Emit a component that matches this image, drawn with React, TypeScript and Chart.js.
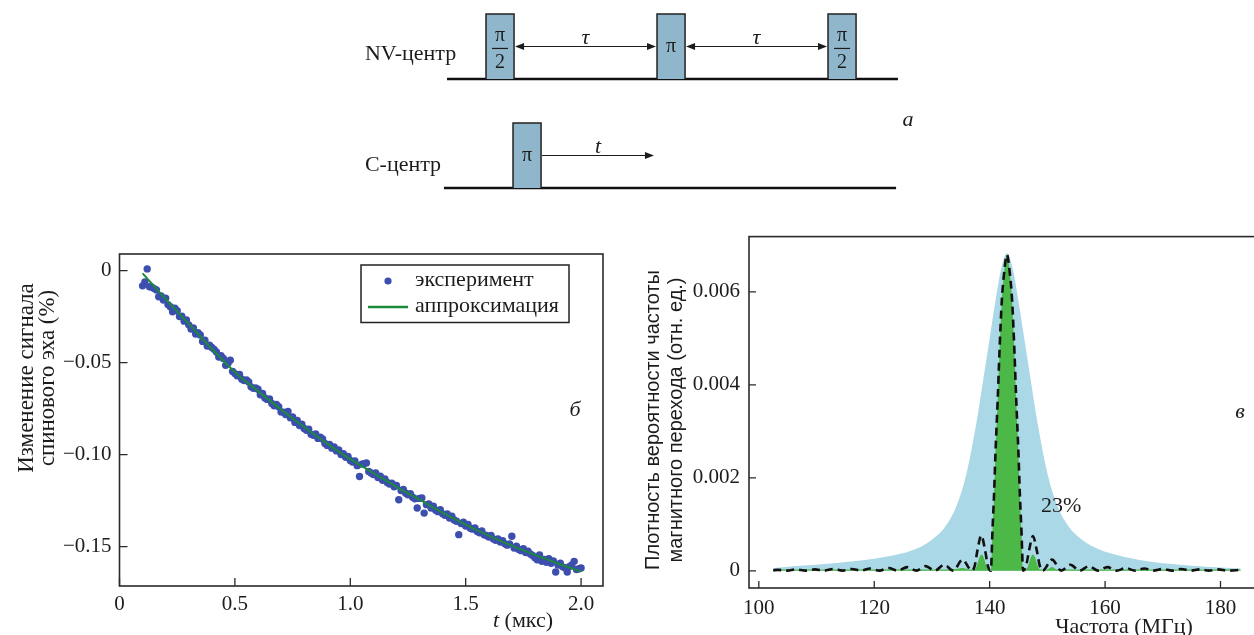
import React, { useEffect, useRef } from "react";
import { Chart, registerables } from "chart.js";

Chart.register(...registerables);

const SERIF = "'Liberation Serif', 'Times New Roman', serif";
const SANS = "'Liberation Sans', Arial, sans-serif";
const INK = "#1c1c1c";

// ---------- (а) pulse sequence: x in units of τ, y in units of pulse height ----------
const pulseWidth = 0.164;
const nvPulseStarts = [0, 1, 2];
const nvPulseLabels = ["π/2", "π", "π/2"];
const cPulseStarts = [0.158];
const cPulseLabels = ["π"];
const nvLevel = 0;
const cLevel = -1.677;
const nvBaseline = [-0.228, 2.409];
const cBaseline = [-0.246, 2.398];
const nvArrows = [[0.164, 1.0], [1.164, 2.0]];
const nvArrowLabels = ["τ", "τ"];
const cArrows = [[0.322, 0.988]];
const cArrowLabels = ["t"];
const rowLabels = ["NV-центр", "С-центр"];

// ---------- (б) spin echo signal ----------
const expT = [
  0.10, 0.11, 0.12, 0.13, 0.14, 0.15, 0.16, 0.17, 0.18, 0.19,
  0.20, 0.21, 0.22, 0.23, 0.24, 0.25, 0.26, 0.27, 0.28, 0.29,
  0.30, 0.31, 0.32, 0.33, 0.34, 0.35, 0.36, 0.37, 0.38, 0.39,
  0.40, 0.41, 0.42, 0.43, 0.44, 0.45, 0.46, 0.47, 0.48, 0.49,
  0.50, 0.51, 0.52, 0.53, 0.54, 0.55, 0.56, 0.57, 0.58, 0.59,
  0.60, 0.61, 0.62, 0.63, 0.64, 0.65, 0.66, 0.67, 0.68, 0.69,
  0.70, 0.71, 0.72, 0.73, 0.74, 0.75, 0.76, 0.77, 0.78, 0.79,
  0.80, 0.81, 0.82, 0.83, 0.84, 0.85, 0.86, 0.87, 0.88, 0.89,
  0.90, 0.91, 0.92, 0.93, 0.94, 0.95, 0.96, 0.97, 0.98, 0.99,
  1.00, 1.01, 1.02, 1.03, 1.04, 1.05, 1.06, 1.07, 1.08, 1.09,
  1.10, 1.11, 1.12, 1.13, 1.14, 1.15, 1.16, 1.17, 1.18, 1.19,
  1.20, 1.21, 1.22, 1.23, 1.24, 1.25, 1.26, 1.27, 1.28, 1.29,
  1.30, 1.31, 1.32, 1.33, 1.34, 1.35, 1.36, 1.37, 1.38, 1.39,
  1.40, 1.41, 1.42, 1.43, 1.44, 1.45, 1.46, 1.47, 1.48, 1.49,
  1.50, 1.51, 1.52, 1.53, 1.54, 1.55, 1.56, 1.57, 1.58, 1.59,
  1.60, 1.61, 1.62, 1.63, 1.64, 1.65, 1.66, 1.67, 1.68, 1.69,
  1.70, 1.71, 1.72, 1.73, 1.74, 1.75, 1.76, 1.77, 1.78, 1.79,
  1.80, 1.81, 1.82, 1.83, 1.84, 1.85, 1.86, 1.87, 1.88, 1.89,
  1.90, 1.91, 1.92, 1.93, 1.94, 1.95, 1.96, 1.97, 1.98, 1.99, 2.00,
];
const expV = [
  -0.0083, -0.0062, 0.0009, -0.0088, -0.0090, -0.0098, -0.0105, -0.0142, -0.0138, -0.0160,
  -0.0150, -0.0185, -0.0196, -0.0224, -0.0205, -0.0218, -0.0250, -0.0248, -0.0275, -0.0269,
  -0.0295, -0.0318, -0.0312, -0.0345, -0.0338, -0.0350, -0.0385, -0.0378, -0.0410, -0.0405,
  -0.0418, -0.0428, -0.0442, -0.0470, -0.0462, -0.0478, -0.0515, -0.0505, -0.0487, -0.0548,
  -0.0560, -0.0572, -0.0565, -0.0590, -0.0598, -0.0595, -0.0605, -0.0632, -0.0640, -0.0638,
  -0.0645, -0.0675, -0.0668, -0.0692, -0.0700, -0.0698, -0.0722, -0.0735, -0.0728, -0.0740,
  -0.0768, -0.0770, -0.0782, -0.0766, -0.0800, -0.0795, -0.0825, -0.0815, -0.0842, -0.0835,
  -0.0858, -0.0868, -0.0862, -0.0890, -0.0895, -0.0888, -0.0912, -0.0905, -0.0915, -0.0940,
  -0.0950, -0.0945, -0.0965, -0.0958, -0.0980, -0.0975, -0.1000, -0.0995, -0.1015, -0.1010,
  -0.1032, -0.1040, -0.1035, -0.1060, -0.1119, -0.1052, -0.1050, -0.1045, -0.1092, -0.1100,
  -0.1108, -0.1100, -0.1125, -0.1118, -0.1140, -0.1132, -0.1152, -0.1160, -0.1155, -0.1175,
  -0.1168, -0.1245, -0.1195, -0.1190, -0.1210, -0.1218, -0.1212, -0.1232, -0.1240, -0.1290,
  -0.1238, -0.1236, -0.1318, -0.1272, -0.1268, -0.1290, -0.1280, -0.1302, -0.1310, -0.1300,
  -0.1322, -0.1330, -0.1322, -0.1345, -0.1335, -0.1355, -0.1362, -0.1435, -0.1375, -0.1368,
  -0.1388, -0.1380, -0.1400, -0.1405, -0.1398, -0.1418, -0.1425, -0.1415, -0.1436, -0.1440,
  -0.1448, -0.1440, -0.1458, -0.1465, -0.1458, -0.1475, -0.1468, -0.1485, -0.1492, -0.1485,
  -0.1444, -0.1508, -0.1498, -0.1515, -0.1522, -0.1512, -0.1532, -0.1525, -0.1540, -0.1548,
  -0.1560, -0.1572, -0.1545, -0.1580, -0.1570, -0.1585, -0.1565, -0.1590, -0.1578, -0.1638,
  -0.1600, -0.1590, -0.1610, -0.1615, -0.1638, -0.1608, -0.1600, -0.1580, -0.1625, -0.1620, -0.1616,
];
const fitT = [0.1, 0.2, 0.3, 0.4, 0.5, 0.6, 0.7, 0.8, 0.9, 1.0, 1.1, 1.2, 1.3, 1.4, 1.5, 1.6, 1.7, 1.8, 1.9, 2.0];
const fitV = [
  -0.0015, -0.0155, -0.029, -0.0425, -0.0552, -0.0655, -0.0755, -0.085, -0.094, -0.1025,
  -0.11, -0.1175, -0.1245, -0.1315, -0.138, -0.144, -0.1495, -0.1545, -0.1592, -0.1635,
];
const legendLabels = ["эксперимент", "аппроксимация"];

// ---------- (в) frequency distribution ----------
const lorX = [
  102.5, 106, 111, 116, 120, 124, 127, 129, 131, 132, 133, 134, 135, 136, 137, 138, 139, 140, 141, 142,
  143, 144, 145, 146, 147, 148, 149, 150, 151, 152, 153, 154, 155, 157, 159, 162, 166, 170, 175, 180, 183.5,
];
const lorY = [
  0.00006, 0.0001, 0.00014, 0.0002, 0.00026, 0.00035, 0.00046, 0.00058, 0.00077, 0.0009, 0.00108, 0.00132,
  0.00165, 0.0021, 0.0027, 0.0034, 0.0042, 0.005, 0.0058, 0.0065,
  0.00683, 0.0065, 0.0058, 0.005, 0.0042, 0.0034, 0.0027, 0.0021, 0.00165, 0.00132, 0.00108, 0.0009,
  0.00077, 0.00058, 0.00046, 0.00034, 0.00023, 0.00016, 0.00011, 0.00007, 0.00005,
];
const greenX = [
  102.5, 133.0, 134.2, 135.3, 136.4, 137.4, 137.8, 138.2, 138.6, 139.0, 139.4, 139.8,
  140.2, 140.5, 140.75, 141.0, 141.4, 141.7, 142.1, 142.5, 143.0, 143.5, 143.9, 144.3, 144.6, 145.0, 145.25, 145.5, 145.8,
  146.3, 146.7, 147.1, 147.5, 147.9, 148.3, 148.7, 150.0, 150.8, 151.6, 183.5,
];
const greenY = [
  0.00003, 0.00003, 0.00004, 0.00006, 0.00003, 0.00003, 0.00012, 0.00028, 0.00035, 0.00028, 0.00012, 0.00002,
  0, 0.0009, 0.0016, 0.0025, 0.0037, 0.0047, 0.0058, 0.0064, 0.0068, 0.0064, 0.0058, 0.0047, 0.0037, 0.0025, 0.0016, 0.0009, 0,
  0.00002, 0.00012, 0.00028, 0.00035, 0.00028, 0.00012, 0.00003, 0.00003, 0.00008, 0.00003, 0.00003,
];
const dashX = [
  102.5, 103.3, 104.9, 106.5, 108.1, 109.7, 111.3, 112.9, 114.5, 116.1, 117.7, 119.3, 120.9, 122.5, 124.1,
  125.7, 127.3, 128.9, 130.5, 132.1, 133.7, 135.3, 136.9, 137.4, 137.9, 138.55, 139.2, 139.7, 140.2,
  140.5, 140.75, 141.0, 141.4, 141.7, 142.1, 142.5, 143.0, 143.5, 143.9, 144.3, 144.6, 145.0, 145.25, 145.5, 145.8,
  146.3, 146.85, 147.5, 148.15, 148.7, 149.2, 150.8, 152.4, 154.0, 155.6, 157.2, 158.8, 160.4, 162.0, 163.6, 165.2, 166.8, 168.4,
  170.0, 171.6, 173.2, 174.8, 176.4, 178.0, 179.6, 181.2, 183.5,
];
const dashY = [
  0.00001, 0.00002, 0.000003, 0.00003, 0.000003, 0.00003, 0.000003, 0.00004, 0.000003, 0.00004, 0.000003, 0.00005, 0.000003, 0.00006, 0.000003,
  0.00008, 0.000003, 0.0001, 0.000003, 0.00013, 0.000003, 0.00024, 0.000003, 0.0001, 0.00045, 0.00076, 0.00045, 0.0001, 0,
  0.0009, 0.0016, 0.0025, 0.0037, 0.0047, 0.0058, 0.0064, 0.0068, 0.0064, 0.0058, 0.0047, 0.0037, 0.0025, 0.0016, 0.0009, 0,
  0.0001, 0.00045, 0.00075, 0.00045, 0.0001, 0.000003, 0.00024, 0.000003, 0.00013, 0.000003, 0.0001, 0.000003, 0.00008, 0.000003, 0.00006, 0.000003, 0.00005, 0.000003,
  0.00004, 0.000003, 0.00004, 0.000003, 0.00003, 0.000003, 0.00003, 0.000003, 0.00002,
];
const percentLabel = "23%";
const percentPos = [148.9, 0.0014];

const BOX_FILL = "#8fb6ca";
const DOT_BLUE = "#3d4fae";
const FIT_GREEN = "#1b8a3a";
const LIGHT_BLUE = "#aad8e6";
const GREEN_FILL = "#4cb847";

const toXY = (xs: number[], ys: number[]) => xs.map((x, i) => ({ x, y: ys[i] }));

const frameTicks = (len: number) => ({
  id: "frameTicks",
  afterDraw(chart: any) {
    const { ctx, chartArea: a, scales } = chart;
    ctx.save();
    ctx.strokeStyle = "#2a2a2a";
    ctx.lineWidth = 1.6;
    ctx.strokeRect(a.left, a.top, a.right - a.left, a.bottom - a.top);
    ctx.lineWidth = 1.3;
    ctx.beginPath();
    scales.x.ticks.forEach((t: any) => {
      const p = scales.x.getPixelForValue(t.value);
      ctx.moveTo(p, a.bottom);
      ctx.lineTo(p, a.bottom - len);
    });
    scales.y.ticks.forEach((t: any) => {
      const p = scales.y.getPixelForValue(t.value);
      ctx.moveTo(a.left, p);
      ctx.lineTo(a.left + len, p);
    });
    ctx.stroke();
    ctx.restore();
  },
});

function rotatedText(ctx: any, text: string, x: number, y: number, maxW?: number) {
  ctx.save();
  ctx.translate(x, y);
  ctx.rotate(-Math.PI / 2);
  ctx.textAlign = "center";
  ctx.textBaseline = "alphabetic";
  if (maxW) ctx.fillText(text, 0, 0, maxW);
  else ctx.fillText(text, 0, 0);
  ctx.restore();
}

function arrowHead(ctx: any, x: number, y: number, dir: number) {
  ctx.beginPath();
  ctx.moveTo(x, y);
  ctx.lineTo(x - dir * 9, y - 3.5);
  ctx.lineTo(x - dir * 9, y + 3.5);
  ctx.closePath();
  ctx.fill();
}

export default function App() {
  const diagRef = useRef<HTMLCanvasElement>(null);
  const leftRef = useRef<HTMLCanvasElement>(null);
  const rightRef = useRef<HTMLCanvasElement>(null);

  useEffect(() => {
    // ---------- panel а ----------
    const boxDs = (starts: number[], level: number) =>
      starts.map((s) => ({
        data: [
          { x: s, y: level },
          { x: s, y: level + 1 },
          { x: s + pulseWidth, y: level + 1 },
          { x: s + pulseWidth, y: level },
        ],
        borderColor: "#222",
        borderWidth: 1.5,
        backgroundColor: BOX_FILL,
        fill: { value: level },
        pointRadius: 0,
        tension: 0,
        order: 0,
      }));

    const diagPlugin = {
      id: "diagText",
      afterDatasetsDraw(chart: any) {
        const { ctx, scales } = chart;
        const X = (v: number) => scales.x.getPixelForValue(v);
        const Y = (v: number) => scales.y.getPixelForValue(v);
        ctx.save();
        ctx.fillStyle = INK;
        ctx.strokeStyle = INK;
        ctx.font = `22px ${SERIF}`;
        ctx.textAlign = "left";
        ctx.textBaseline = "alphabetic";
        ctx.fillText(rowLabels[0], X(-0.708), Y(nvLevel + 0.29));
        ctx.fillText(rowLabels[1], X(-0.708), Y(cLevel + 0.26));
        const drawPulseLabels = (starts: number[], labels: string[], level: number) => {
          starts.forEach((s, i) => {
            const cx = X(s + pulseWidth / 2);
            ctx.textAlign = "center";
            ctx.textBaseline = "middle";
            ctx.font = `20px ${SERIF}`;
            if (labels[i] === "π/2") {
              ctx.fillText("π", cx, Y(level + 0.66));
              ctx.fillText("2", cx, Y(level + 0.25));
              ctx.lineWidth = 1.2;
              ctx.beginPath();
              ctx.moveTo(cx - 8, Y(level + 0.47));
              ctx.lineTo(cx + 8, Y(level + 0.47));
              ctx.stroke();
            } else {
              ctx.fillText(labels[i], cx, Y(level + 0.5));
            }
          });
        };
        drawPulseLabels(nvPulseStarts, nvPulseLabels, nvLevel);
        drawPulseLabels(cPulseStarts, cPulseLabels, cLevel);
        const drawArrows = (arr: number[][], labels: string[], level: number, both: boolean) => {
          arr.forEach(([a, b], i) => {
            const y = Y(level + 0.5);
            const x1 = X(a) + 1;
            const x2 = X(b) - 1;
            ctx.lineWidth = 1.1;
            ctx.beginPath();
            ctx.moveTo(x1 + (both ? 4 : 0), y);
            ctx.lineTo(x2 - 4, y);
            ctx.stroke();
            arrowHead(ctx, x2, y, 1);
            if (both) arrowHead(ctx, x1, y, -1);
            ctx.font = `italic 22px ${SERIF}`;
            ctx.textAlign = "center";
            ctx.textBaseline = "alphabetic";
            ctx.fillText(labels[i], X((a + b) / 2), Y(level + 0.63) + 6);
          });
        };
        drawArrows(nvArrows, nvArrowLabels, nvLevel, true);
        drawArrows(cArrows, cArrowLabels, cLevel, false);
        ctx.font = `italic 22px ${SERIF}`;
        ctx.textAlign = "center";
        ctx.textBaseline = "middle";
        ctx.fillText("а", X(2.468), Y(-0.63));
        ctx.restore();
      },
    };

    const diag = new Chart(diagRef.current!, {
      type: "line",
      data: {
        datasets: [
          {
            data: nvBaseline.map((x) => ({ x, y: nvLevel })),
            borderColor: "#111",
            borderWidth: 2.6,
            pointRadius: 0,
            order: 1,
          },
          {
            data: cBaseline.map((x) => ({ x, y: cLevel })),
            borderColor: "#111",
            borderWidth: 2.6,
            pointRadius: 0,
            order: 1,
          },
          ...boxDs(nvPulseStarts, nvLevel),
          ...boxDs(cPulseStarts, cLevel),
        ] as any,
      },
      options: {
        responsive: false,
        animation: false,
        events: [],
        layout: { padding: 0 },
        plugins: { legend: { display: false }, tooltip: { enabled: false } },
        scales: {
          x: { type: "linear", display: false, min: -2.842, max: 4.491 },
          y: { type: "linear", display: false, min: -2.0923, max: 1.2154 },
        },
      } as any,
      plugins: [diagPlugin],
    });

    // ---------- panel б ----------
    const leftText = {
      id: "leftText",
      afterDraw(chart: any) {
        const { ctx, chartArea: a } = chart;
        ctx.save();
        ctx.fillStyle = INK;
        ctx.font = `23px ${SERIF}`;
        rotatedText(ctx, "Изменение сигнала", 33, 163, 190);
        rotatedText(ctx, "спинового эха (%)", 54, 163, 176);
        // x title
        ctx.textAlign = "left";
        ctx.textBaseline = "alphabetic";
        ctx.font = `italic 22px ${SERIF}`;
        const x0 = 493;
        ctx.fillText("t", x0, 412);
        const tw = ctx.measureText("t").width;
        ctx.font = `22px ${SERIF}`;
        ctx.fillText(" (мкс)", x0 + tw, 412);
        // panel letter
        ctx.font = `italic 22px ${SERIF}`;
        ctx.textAlign = "center";
        ctx.textBaseline = "middle";
        ctx.fillText("б", a.right - 28, 195);
        // legend
        const lx = a.right - 242;
        const ly = a.top + 11;
        ctx.strokeStyle = "#222";
        ctx.lineWidth = 1.5;
        ctx.strokeRect(lx, ly, 208, 57.5);
        ctx.fillStyle = DOT_BLUE;
        ctx.beginPath();
        ctx.arc(lx + 27, ly + 16, 3.6, 0, Math.PI * 2);
        ctx.fill();
        ctx.strokeStyle = FIT_GREEN;
        ctx.lineWidth = 2.5;
        ctx.beginPath();
        ctx.moveTo(lx + 7, ly + 42);
        ctx.lineTo(lx + 47, ly + 42);
        ctx.stroke();
        ctx.fillStyle = INK;
        ctx.font = `22px ${SERIF}`;
        ctx.textAlign = "left";
        ctx.textBaseline = "middle";
        ctx.fillText(legendLabels[0], lx + 54, ly + 15);
        ctx.fillText(legendLabels[1], lx + 54, ly + 41);
        ctx.restore();
      },
    };

    const left = new Chart(leftRef.current!, {
      type: "line",
      data: {
        datasets: [
          {
            data: toXY(fitT, fitV),
            borderColor: FIT_GREEN,
            borderWidth: 2,
            pointRadius: 0,
            cubicInterpolationMode: "monotone",
            order: 0,
          },
          {
            data: toXY(expT, expV),
            showLine: false,
            pointRadius: 3.7,
            pointBackgroundColor: DOT_BLUE,
            pointBorderColor: DOT_BLUE,
            pointBorderWidth: 0,
            borderColor: DOT_BLUE,
            order: 1,
          },
        ] as any,
      },
      options: {
        responsive: false,
        animation: false,
        events: [],
        layout: { padding: { top: 39, right: 37, left: 0, bottom: 0 } },
        plugins: { legend: { display: false }, tooltip: { enabled: false } },
        scales: {
          x: {
            type: "linear",
            min: 0,
            max: 2.095,
            afterFit: (s: any) => {
              s.height = 49;
            },
            grid: { display: false, drawTicks: false },
            border: { display: false },
            ticks: {
              stepSize: 0.5,
              includeBounds: false,
              padding: 6,
              maxRotation: 0,
              autoSkip: false,
              color: INK,
              font: { family: SERIF, size: 21 },
              callback: (v: any) => (Math.abs(v) < 1e-9 ? "0" : Number(v).toFixed(1)),
            },
          },
          y: {
            type: "linear",
            min: -0.1714,
            max: 0.009,
            afterFit: (s: any) => {
              s.width = 119.5;
            },
            grid: { display: false, drawTicks: false },
            border: { display: false },
            ticks: {
              stepSize: 0.05,
              includeBounds: false,
              padding: 8,
              autoSkip: false,
              color: INK,
              font: { family: SERIF, size: 21 },
              callback: (v: any) => (Math.abs(v) < 1e-9 ? "0" : "−" + Math.abs(Number(v)).toFixed(2)),
            },
          },
        },
      } as any,
      plugins: [frameTicks(8), leftText],
    });

    // ---------- panel в ----------
    const rightText = {
      id: "rightText",
      afterDraw(chart: any) {
        const { ctx, scales } = chart;
        ctx.save();
        ctx.fillStyle = INK;
        ctx.font = `20px ${SANS}`;
        rotatedText(ctx, "Плотность вероятности частоты", 19, 205, 315);
        rotatedText(ctx, "магнитного перехода (отн. ед.)", 42, 205, 300);
        ctx.font = `22px ${SERIF}`;
        ctx.textAlign = "center";
        ctx.textBaseline = "alphabetic";
        ctx.fillText("Частота (МГц)", 484, 418);
        ctx.textAlign = "left";
        ctx.textBaseline = "middle";
        ctx.fillText(percentLabel, scales.x.getPixelForValue(percentPos[0]), scales.y.getPixelForValue(percentPos[1]));
        ctx.font = `italic 22px ${SERIF}`;
        ctx.textAlign = "center";
        ctx.fillText("в", 600, 197);
        ctx.restore();
      },
    };

    const right = new Chart(rightRef.current!, {
      type: "line",
      data: {
        datasets: [
          {
            data: toXY(dashX, dashY),
            borderColor: "#111",
            borderWidth: 2.6,
            borderDash: [8, 5],
            pointRadius: 0,
            cubicInterpolationMode: "monotone",
            fill: false,
            order: 0,
          },
          {
            data: toXY(greenX, greenY),
            borderWidth: 0,
            borderColor: "rgba(0,0,0,0)",
            backgroundColor: GREEN_FILL,
            pointRadius: 0,
            cubicInterpolationMode: "monotone",
            fill: "origin",
            order: 1,
          },
          {
            data: toXY(lorX, lorY),
            borderWidth: 0,
            borderColor: "rgba(0,0,0,0)",
            backgroundColor: LIGHT_BLUE,
            pointRadius: 0,
            cubicInterpolationMode: "monotone",
            fill: "origin",
            order: 2,
          },
        ] as any,
      },
      options: {
        responsive: false,
        animation: false,
        events: [],
        layout: { padding: { top: 10, right: 22, left: 0, bottom: 0 } },
        plugins: { legend: { display: false }, tooltip: { enabled: false } },
        scales: {
          x: {
            type: "linear",
            min: 98.3,
            max: 186.5,
            afterFit: (s: any) => {
              s.height = 47;
            },
            grid: { display: false, drawTicks: false },
            border: { display: false },
            ticks: {
              stepSize: 20,
              includeBounds: false,
              padding: 8,
              maxRotation: 0,
              autoSkip: false,
              color: INK,
              font: { family: SERIF, size: 21 },
              callback: (v: any) => String(Math.round(Number(v))),
            },
          },
          y: {
            type: "linear",
            min: -0.00037,
            max: 0.00719,
            afterFit: (s: any) => {
              s.width = 109;
            },
            grid: { display: false, drawTicks: false },
            border: { display: false },
            ticks: {
              stepSize: 0.002,
              includeBounds: false,
              padding: 9,
              autoSkip: false,
              color: INK,
              font: { family: SERIF, size: 21 },
              callback: (v: any) => (Math.abs(v) < 1e-9 ? "0" : Number(v).toFixed(3)),
            },
          },
        },
      } as any,
      plugins: [frameTicks(7), rightText],
    });

    return () => {
      diag.destroy();
      left.destroy();
      right.destroy();
    };
  }, []);

  return (
    <div
      style={{
        position: "fixed",
        left: 0,
        top: 0,
        width: 1254,
        height: 635,
        overflow: "hidden",
        background: "#fff",
      }}
    >
      <canvas
        ref={diagRef}
        width={1254}
        height={215}
        style={{ position: "absolute", left: 0, top: 0, width: 1254, height: 215 }}
      />
      <canvas
        ref={leftRef}
        width={640}
        height={420}
        style={{ position: "absolute", left: 0, top: 215, width: 640, height: 420 }}
      />
      <canvas
        ref={rightRef}
        width={640}
        height={420}
        style={{ position: "absolute", left: 640, top: 215, width: 640, height: 420 }}
      />
    </div>
  );
}
